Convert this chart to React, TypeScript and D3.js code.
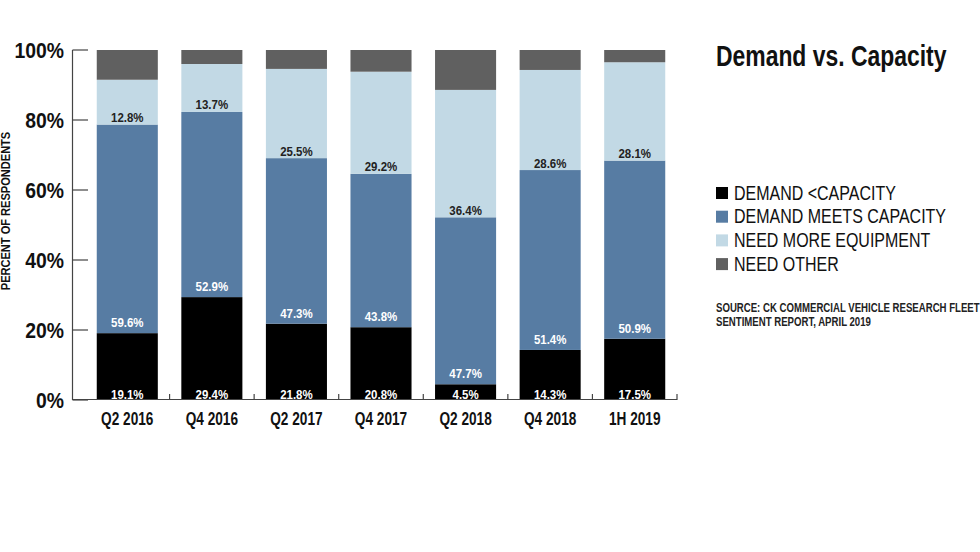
import React from "react";
import * as d3 from "d3";

const categories = ["Q2 2016", "Q4 2016", "Q2 2017", "Q4 2017", "Q2 2018", "Q4 2018", "1H 2019"];
const demandLess = [19.1, 29.4, 21.8, 20.8, 4.5, 14.3, 17.5];
const demandMeets = [59.6, 52.9, 47.3, 43.8, 47.7, 51.4, 50.9];
const needMore = [12.8, 13.7, 25.5, 29.2, 36.4, 28.6, 28.1];
const needOther = [8.5, 4.0, 5.4, 6.2, 11.4, 5.7, 3.5];
const seriesNames = ["DEMAND <CAPACITY", "DEMAND MEETS CAPACITY", "NEED MORE EQUIPMENT", "NEED OTHER"];
const yTicks = [0, 20, 40, 60, 80, 100];

const colors = ["#000000", "#577ca3", "#c2d9e5", "#606060"];
const labelColors = ["#ffffff", "#ffffff", "#222222", null];
const labelOffsets = [1.5, 6, 2.5, 0];

const FONT = "'Liberation Sans', Arial, sans-serif";

type NTProps = {
  x: number;
  y: number;
  sx: number;
  size: number;
  bold?: boolean;
  anchor?: string;
  fill?: string;
  rotate?: number;
  children: React.ReactNode;
};

function NText({ x, y, sx, size, bold, anchor = "start", fill = "#111", rotate = 0, children }: NTProps) {
  return (
    <text
      transform={`translate(${x},${y}) rotate(${rotate}) scale(${sx},1)`}
      textAnchor={anchor}
      fontFamily={FONT}
      fontWeight={bold ? "bold" : "normal"}
      fontSize={size}
      fill={fill}
    >
      {children}
    </text>
  );
}

export default function App() {
  const W = 980, H = 552;
  const x = d3.scaleBand<string>().domain(categories).range([85, 677]).paddingInner(0.278).paddingOuter(0.139);
  const y = d3.scaleLinear().domain([0, 100]).range([400, 50]);
  const seriesData = [demandLess, demandMeets, needMore, needOther];
  const table = categories.map((c, i) => {
    const row: any = { cat: c };
    seriesNames.forEach((s, k) => (row[s] = seriesData[k][i]));
    return row;
  });
  const stacked = d3.stack<any>().keys(seriesNames)(table);
  const step = x.step();
  const boundaries = categories.map((c) => (x(c) as number) + x.bandwidth() + (step - x.bandwidth()) / 2);

  return (
    <svg width={W} height={H} style={{ position: "absolute", left: 0, top: 0, background: "#fff" }}>
      {stacked.map((layer, k) => (
        <g key={k}>
          {layer.map((d, i) => (
            <rect
              key={i}
              x={x(categories[i])}
              width={x.bandwidth()}
              y={y(d[1])}
              height={y(d[0]) - y(d[1])}
              fill={colors[k]}
            />
          ))}
        </g>
      ))}
      {stacked.map((layer, k) =>
        labelColors[k]
          ? layer.map((d, i) => (
              <NText
                key={`l${k}-${i}`}
                x={(x(categories[i]) as number) + x.bandwidth() / 2}
                y={y(d[0]) - labelOffsets[k]}
                anchor="middle"
                bold
                size={13.5}
                sx={0.85}
                fill={labelColors[k] as string}
              >
                {seriesData[k][i].toFixed(1)}%
              </NText>
            ))
          : null
      )}
      {/* axes */}
      <line x1={72.5} x2={72.5} y1={y(100)} y2={y(0)} stroke="#444" strokeWidth={1.2} />
      <line x1={72.5} x2={677} y1={y(0) - 0.5} y2={y(0) - 0.5} stroke="#444" strokeWidth={1.2} />
      {yTicks.map((t) => (
        <g key={t}>
          <line x1={72.5} x2={88} y1={y(t)} y2={y(t)} stroke="#444" strokeWidth={1.2} />
          <NText x={64} y={y(t) + 7.5} anchor="end" bold size={22} sx={0.88}>
            {t}%
          </NText>
        </g>
      ))}
      {boundaries.map((bx, i) => (
        <line key={i} x1={bx} x2={bx} y1={y(0)} y2={y(0) - 6} stroke="#444" strokeWidth={1.2} />
      ))}
      {categories.map((c) => (
        <NText key={c} x={(x(c) as number) + x.bandwidth() / 2} y={425} anchor="middle" bold size={17.5} sx={0.78}>
          {c}
        </NText>
      ))}
      <NText x={9.5} y={211} rotate={-90} anchor="middle" bold size={13.5} sx={0.82}>
        PERCENT OF RESPONDENTS
      </NText>
      {/* title */}
      <NText x={716} y={66} bold size={29} sx={0.79}>
        Demand vs. Capacity
      </NText>
      {/* legend */}
      {seriesNames.map((s, k) => (
        <g key={s} transform={`translate(716, ${199.5 + k * 23.7})`}>
          <rect x={0} y={-12.5} width={12} height={12} fill={colors[k]} />
          <NText x={18} y={0} size={19.5} sx={0.82}>
            {s}
          </NText>
        </g>
      ))}
      <NText x={716} y={312} bold size={12.5} sx={0.77} fill="#222">
        SOURCE: CK COMMERCIAL VEHICLE RESEARCH FLEET
      </NText>
      <NText x={716} y={325.5} bold size={12.5} sx={0.77} fill="#222">
        SENTIMENT REPORT, APRIL 2019
      </NText>
    </svg>
  );
}
